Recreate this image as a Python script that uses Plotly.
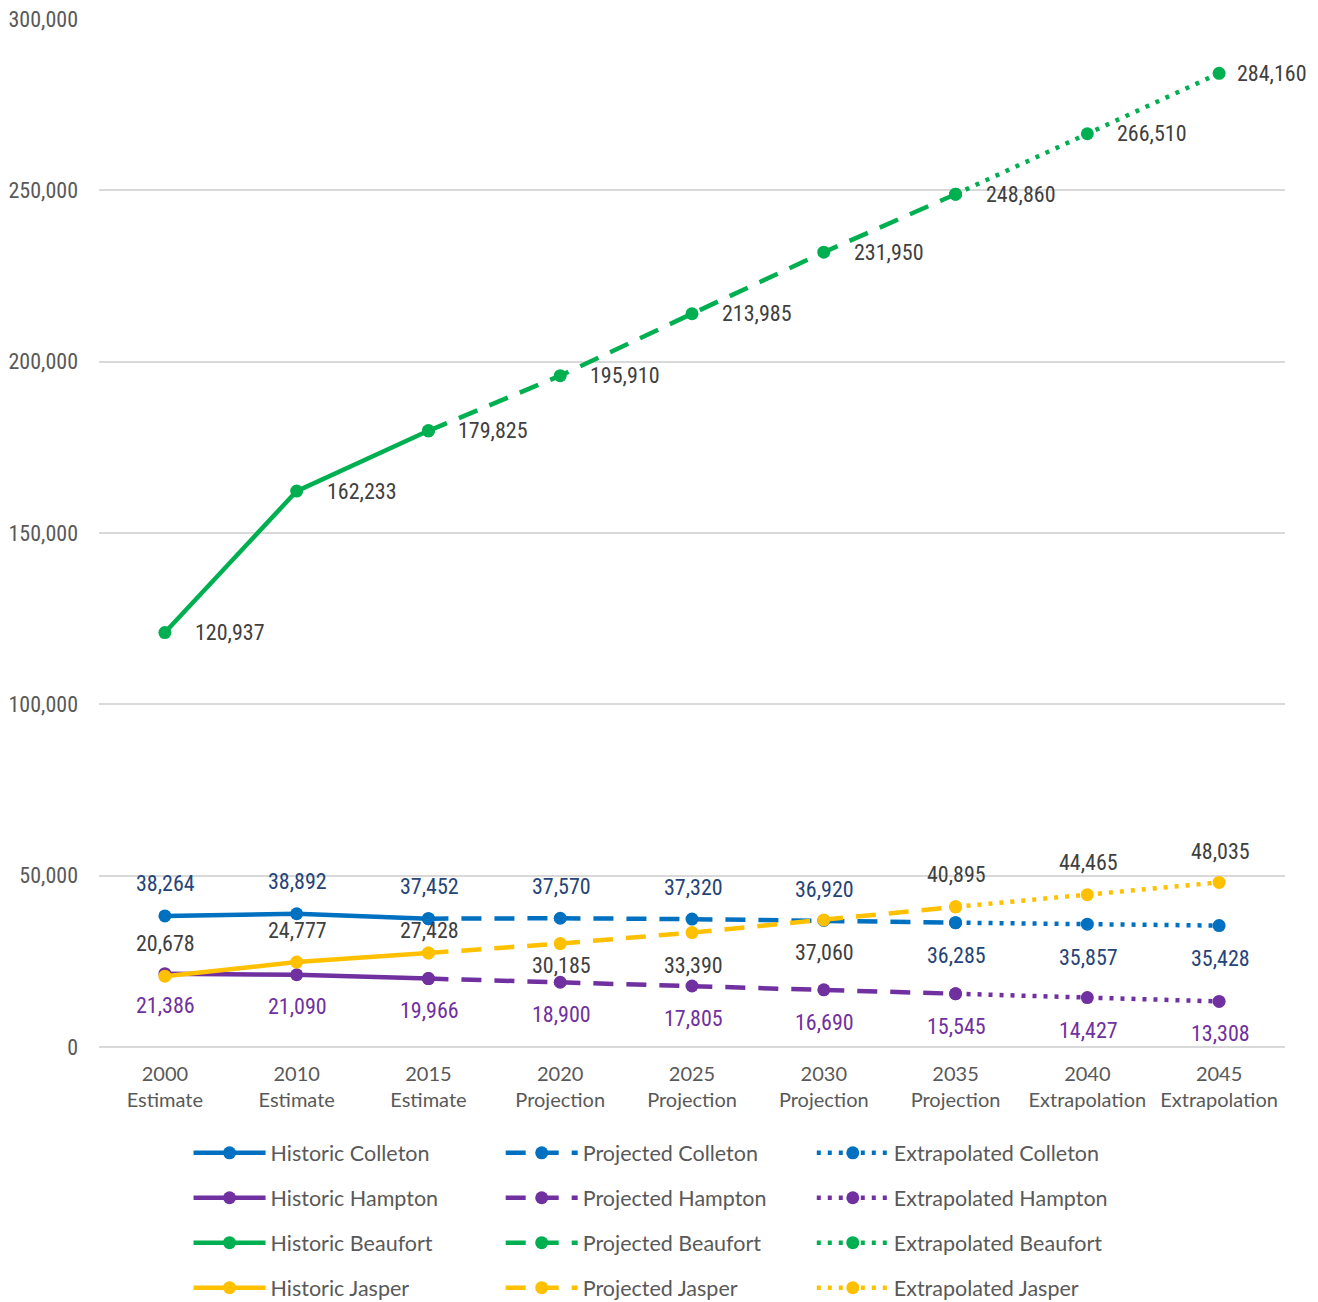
import plotly.graph_objects as go

years = ["2000", "2010", "2015", "2020", "2025", "2030", "2035", "2040", "2045"]
kinds = ["Estimate", "Estimate", "Estimate", "Projection", "Projection", "Projection",
         "Projection", "Extrapolation", "Extrapolation"]
categories = [f"{y}<br>{k}" for y, k in zip(years, kinds)]

colleton = [38264, 38892, 37452, 37570, 37320, 36920, 36285, 35857, 35428]
hampton = [21386, 21090, 19966, 18900, 17805, 16690, 15545, 14427, 13308]
beaufort = [120937, 162233, 179825, 195910, 213985, 231950, 248860, 266510, 284160]
jasper = [20678, 24777, 27428, 30185, 33390, 37060, 40895, 44465, 48035]

counties = ["Colleton", "Hampton", "Beaufort", "Jasper"]
series = {"Colleton": colleton, "Hampton": hampton, "Beaufort": beaufort, "Jasper": jasper}

# style
line_colors = {"Colleton": "#0070C0", "Hampton": "#7030A0", "Beaufort": "#00B050", "Jasper": "#FFC000"}
label_colors = {"Colleton": "#264478", "Hampton": "#7030A0", "Beaufort": "#404040", "Jasper": "#404040"}
# label offsets in pixels (style only)
label_yshift = {
    "Colleton": [32, 32, 32, 32, 32, 31, -33, -33, -33],
    "Hampton": [-32, -32, -32, -32, -33, -33, -33, -33, -32],
    "Beaufort": [0] * 9,
    "Jasper": [33, 32, 23, -22, -33, -32, 32, 32, 31],
}
beaufort_xshift = [28, 28, 28, 28, 28, 28, 28, 28, 16]

segments = [("Historic", 0, 3, "solid"), ("Projected", 2, 7, "20px,13px"), ("Extrapolated", 6, 9, "4px,7px")]

DATA_FONT = "Liberation Sans Narrow, Roboto Condensed, Arial Narrow, Liberation Sans, sans-serif"
TEXT_FONT = "Lato, Open Sans, sans-serif"

fig = go.Figure()
legend_ids = {"Historic": "legend", "Projected": "legend2", "Extrapolated": "legend3"}

for c in counties:
    for seg_name, a, b, dash in segments:
        vals = series[c]
        fig.add_trace(go.Scatter(
            x=categories[a:b], y=vals[a:b],
            mode="lines+markers",
            name=f"{seg_name} {c}",
            line=dict(color=line_colors[c], width=4.5, dash=dash),
            marker=dict(color=line_colors[c], size=13),
            legend=legend_ids[seg_name],
            legendgroup=f"{seg_name}{c}",
        ))

annotations = []
for c in counties:
    vals = series[c]
    for i, v in enumerate(vals):
        if c == "Beaufort":
            annotations.append(dict(x=categories[i], y=v, xref="x", yref="y", text=f"{v:,}",
                                    showarrow=False, xanchor="left", yanchor="middle",
                                    xshift=beaufort_xshift[i], yshift=0,
                                    font=dict(family=DATA_FONT, size=22, color=label_colors[c])))
        else:
            annotations.append(dict(x=categories[i], y=v, xref="x", yref="y", text=f"{v:,}",
                                    showarrow=False, xanchor="center", yanchor="middle",
                                    xshift=1, yshift=label_yshift[c][i],
                                    font=dict(family=DATA_FONT, size=22, color=label_colors[c])))

leg_common = dict(orientation="v", yanchor="top", y=-0.083, traceorder="grouped",
                  tracegroupgap=14, itemwidth=72, bgcolor="rgba(0,0,0,0)",
                  font=dict(family=TEXT_FONT, size=21.5, color="#595959"), itemclick=False)

fig.update_layout(
    width=1318, height=1302,
    margin=dict(l=99, r=33, t=19, b=255, autoexpand=False),
    plot_bgcolor="white", paper_bgcolor="white",
    showlegend=True,
    legend=dict(x=0.0755, xanchor="left", **leg_common),
    legend2=dict(x=0.3387, xanchor="left", **leg_common),
    legend3=dict(x=0.601, xanchor="left", **leg_common),
    annotations=annotations,
    xaxis=dict(
        type="category", categoryorder="array", categoryarray=categories,
        range=[-0.5, 8.5], showgrid=False, showline=False, zeroline=False, ticks="",
        tickfont=dict(family=TEXT_FONT, size=20, color="#595959"),
        ticklabelstandoff=13, automargin=False,
    ),
    yaxis=dict(
        range=[0, 300000], dtick=50000, tickformat=",d",
        showgrid=True, gridcolor="#D9D9D9", gridwidth=1.5,
        zeroline=True, zerolinecolor="#D9D9D9", zerolinewidth=1.5,
        showline=False, ticks="", ticklabelstandoff=20, automargin=False,
        tickfont=dict(family=DATA_FONT, size=22, color="#595959"),
    ),
)

fig.write_html("out.html")
